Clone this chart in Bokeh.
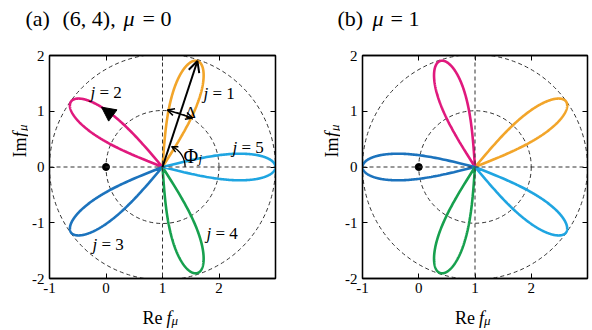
import numpy as np
from bokeh.plotting import figure
from bokeh.layouts import row, column
from bokeh.models import Label, LinearAxis, Arrow, OpenHead, NormalHead, Range1d, FixedTicker, Span
from bokeh.embed import file_html
from bokeh.resources import INLINE

# ---- data -------------------------------------------------------------
petal_j = [1, 2, 3, 4, 5]
petal_angles_a = [72, 144, 216, 288, 0]      # direction of each loop (deg), mu = 0
petal_angles_b = [36, 108, 180, 252, 324]    # direction of each loop (deg), mu = 1
petal_colors = ["#f2a52a", "#e0197d", "#1c73bd", "#17a04e", "#1fa5e1"]
petal_reach = 2.0                            # |f - 1| at the far end of a loop
center_x, center_y = 1.0, 0.0                # loops start at f = 1
circle_radii = [1.0, 2.0]
dot_x, dot_y = [0.0], [0.0]
x_ticks = [-1, 0, 1, 2, 3]
y_ticks = [-2, -1, 0, 1, 2]
delta_at = 1.0          # distance along loop j = 1 where the width is marked
delta_half = 0.235      # half width of loop j = 1 there
phi_arc_radius = 0.4

SERIF = "Liberation Serif"
X0, X1 = -1, 3
Y0, Y1 = -2, 2
PANEL_W = 296
TITLE_H, MID_H, BOTTOM_H = 40, 260, 30     # rows: page y 0-40, 40-300, 300-330
FRAME_TOP, FRAME_H = 55, 223                # frame position on the page
DASH = dict(line_color="#333333", line_width=1.0, line_dash="4 3")


def petal_curve(angle_deg, reach, half_angle=14.0, power=0.45, n=241):
    th = np.radians(np.linspace(-half_angle, half_angle, n))
    k = np.pi / 2 / np.radians(half_angle)
    r = reach * np.clip(np.cos(k * th), 0, None) ** power
    a = np.radians(angle_deg) + th
    return center_x + r * np.cos(a), center_y + r * np.sin(a), r


def style_axis(ax, standoff):
    ax.ticker = FixedTicker(ticks=x_ticks if ax.dimension == 0 else y_ticks)
    ax.axis_line_color = "black"
    ax.axis_line_width = 1.3
    ax.major_tick_line_color = "black"
    ax.major_tick_line_width = 1.0
    ax.major_tick_in = 5
    ax.major_tick_out = 0
    ax.minor_tick_line_color = None
    ax.major_label_text_font = SERIF
    ax.major_label_text_font_size = "15px"
    ax.major_label_text_color = "black"
    ax.major_label_standoff = standoff
    ax.major_label_overrides = {t: str(t) for t in (x_ticks + y_ticks) if t < 0}


def make_main(width, frame_left_local, frame_w):
    top_border = FRAME_TOP - TITLE_H
    p = figure(width=width, height=MID_H,
               x_range=Range1d(X0, X1), y_range=Range1d(Y0, Y1),
               output_backend="svg", toolbar_location=None,
               min_border_left=frame_left_local,
               min_border_right=width - frame_left_local - frame_w,
               min_border_top=top_border,
               min_border_bottom=MID_H - top_border - FRAME_H)
    p.grid.visible = False
    p.outline_line_color = "black"
    p.outline_line_width = 1.3
    p.background_fill_color = "white"
    p.border_fill_color = "white"
    style_axis(p.xaxis[0], standoff=4)
    style_axis(p.yaxis[0], standoff=5)
    # inward ticks on the top and right edges of the frame
    top = LinearAxis()
    right = LinearAxis()
    p.add_layout(top, "above")
    p.add_layout(right, "right")
    top.ticker = FixedTicker(ticks=x_ticks)
    right.ticker = FixedTicker(ticks=y_ticks)
    for ax in (top, right):
        ax.axis_line_color = "black"
        ax.axis_line_width = 1.3
        ax.major_tick_line_color = "black"
        ax.major_tick_in = 5
        ax.major_tick_out = 0
        ax.minor_tick_line_color = None
        ax.major_label_text_font = SERIF
        ax.major_label_overrides = {t: " " for t in x_ticks + y_ticks}
        ax.major_label_text_font_size = "1px"
        ax.major_label_standoff = 0

    # dashed guides: axes through f = 1 and circles |f - 1| = 1, 2
    p.add_layout(Span(location=center_y, dimension="width", **DASH))
    p.add_layout(Span(location=center_x, dimension="height", **DASH))
    p.circle(x=[center_x] * len(circle_radii), y=[center_y] * len(circle_radii),
             radius=circle_radii, fill_color=None, **DASH)
    p.scatter(dot_x, dot_y, size=7, color="black")
    p._frame = (frame_left_local, top_border, frame_w, FRAME_H)
    return p


def make_strip(width, height):
    s = figure(width=width, height=height, x_range=Range1d(0, width), y_range=Range1d(0, height),
               output_backend="svg", toolbar_location=None, x_axis_type=None, y_axis_type=None,
               min_border=0)
    s.outline_line_color = None
    s.grid.visible = False
    s.background_fill_color = "white"
    s.border_fill_color = "white"
    return s


def put_strip(s, x0_page, y0_page, xp, yp, text, size, style="normal", angle=0.0):
    """Text in a strip figure, placed by page pixel (xp, yp) of its baseline start."""
    s.add_layout(Label(x=xp - x0_page, y=s.height - (yp - y0_page), text=text,
                       text_font=SERIF, text_font_size=f"{size}px",
                       text_font_style=style, text_align="left", text_baseline="alphabetic",
                       angle=angle, text_color="black"))


def to_data(p, xp, yp):
    fl, ft, fw, fh = p._frame
    return X0 + (xp - fl) * (X1 - X0) / fw, Y1 - (yp - ft) * (Y1 - Y0) / fh


def put(p, x0_page, xp, yp, text, size, style="normal"):
    """Text inside the frame, placed by page pixel position of its baseline start."""
    x, y = to_data(p, xp - x0_page, yp - TITLE_H)
    p.add_layout(Label(x=x, y=y, text=text, text_font=SERIF, text_font_size=f"{size}px",
                       text_font_style=style, text_align="left", text_baseline="alphabetic",
                       text_color="black"))


def draw_petals(p, angles):
    curves = []
    for ang, col in zip(angles, petal_colors):
        xs, ys, r = petal_curve(ang, petal_reach)
        p.line(xs, ys, line_color=col, line_width=2.6)
        curves.append((xs, ys, r))
    return curves


def build_panel(x_page, ylab_w, frame_left_page, frame_w, angles, title_parts, ylab_base):
    title = make_strip(PANEL_W, TITLE_H)
    for xp, text, style in title_parts:
        put_strip(title, x_page, 0, xp, 18, text, 22, style)
    ylab = make_strip(ylab_w, MID_H)
    put_strip(ylab, x_page, TITLE_H, ylab_base, 159, "Im", 18, angle=np.pi / 2)
    put_strip(ylab, x_page, TITLE_H, ylab_base, 135, "f", 18, "italic", angle=np.pi / 2)
    put_strip(ylab, x_page, TITLE_H, ylab_base + 2.5, 128, "μ", 13, "italic", angle=np.pi / 2)
    main = make_main(PANEL_W - ylab_w, frame_left_page - x_page - ylab_w, frame_w)
    curves = draw_petals(main, angles)
    xlab = make_strip(PANEL_W, BOTTOM_H)
    cx = frame_left_page + frame_w / 2
    put_strip(xlab, x_page, TITLE_H + MID_H, cx - 20, 317, "Re", 18)
    put_strip(xlab, x_page, TITLE_H + MID_H, cx + 4, 317, "f", 18, "italic")
    put_strip(xlab, x_page, TITLE_H + MID_H, cx + 9, 320, "μ", 13, "italic")
    col = column(title, row(ylab, main), xlab)
    return col, main, curves


# ---- panel (a): mu = 0 -------------------------------------------------
YLAB_A = 28
col_a, pa, curves_a = build_panel(
    0, YLAB_A, 49, 226, petal_angles_a,
    [(25, "(a)", "normal"), (62, "(6, 4),", "normal"), (123, "μ", "italic"), (142, "= 0", "normal")],
    19)

# loop labels j = 1..5
j_label_pos_a = [(203, 93), (90, 92), (92, 244), (206, 233), (232, 147)]
for jj, (xp, yp) in zip(petal_j, j_label_pos_a):
    put(pa, YLAB_A, xp, yp, "j", 17, "italic")
    put(pa, YLAB_A, xp + 9, yp, f"= {jj}", 17)

# arrow from f = 1 to the far end of loop j = 1
a1 = np.radians(petal_angles_a[0])
tip_x = center_x + petal_reach * np.cos(a1)
tip_y = center_y + petal_reach * np.sin(a1)
pa.add_layout(Arrow(end=OpenHead(size=11, line_width=2, line_color="black"),
                    x_start=center_x, y_start=center_y, x_end=tip_x, y_end=tip_y,
                    line_width=2, line_color="black"))

# width Delta of loop j = 1
mx = center_x + delta_at * np.cos(a1)
my = center_y + delta_at * np.sin(a1)
nx, ny = -np.sin(a1), np.cos(a1)
pa.add_layout(Arrow(start=OpenHead(size=7, line_width=1.5), end=OpenHead(size=7, line_width=1.5),
                    x_start=mx + delta_half * nx, y_start=my + delta_half * ny,
                    x_end=mx - delta_half * nx, y_end=my - delta_half * ny,
                    line_width=1.5, line_color="black"))
put(pa, YLAB_A, 185, 112, "Δ", 16)

# angle Phi_j
arc_end = np.radians(66)
pa.arc(x=[center_x], y=[center_y], radius=phi_arc_radius, start_angle=0, end_angle=arc_end,
       line_color="black", line_width=1.3)
a0 = arc_end - np.radians(8)
pa.add_layout(Arrow(end=OpenHead(size=6, line_width=1.3),
                    x_start=center_x + phi_arc_radius * np.cos(a0),
                    y_start=center_y + phi_arc_radius * np.sin(a0),
                    x_end=center_x + phi_arc_radius * np.cos(arc_end),
                    y_end=center_y + phi_arc_radius * np.sin(arc_end),
                    line_width=1.3, line_color="black"))
put(pa, YLAB_A, 183, 155, "Φ", 20)
put(pa, YLAB_A, 198, 158, "j", 13, "italic")

# direction of travel on loop j = 2
xs2, ys2, r2 = curves_a[1]
half = len(r2) // 2
i = int(np.argmin(np.abs(r2[:half] - 1.52)))
pa.add_layout(Arrow(end=NormalHead(size=14, fill_color="black", line_color="black"),
                    x_start=xs2[i - 20], y_start=ys2[i - 20], x_end=xs2[i], y_end=ys2[i],
                    line_color=None))

# ---- panel (b): mu = 1 -------------------------------------------------
col_b, pb, _ = build_panel(
    296, 44, 362, 225, petal_angles_b,
    [(337, "(b)", "normal"), (372, "μ", "italic"), (390, "= 1", "normal")],
    331)

layout = row(col_a, col_b)
open("out.html", "w").write(file_html(layout, INLINE))
